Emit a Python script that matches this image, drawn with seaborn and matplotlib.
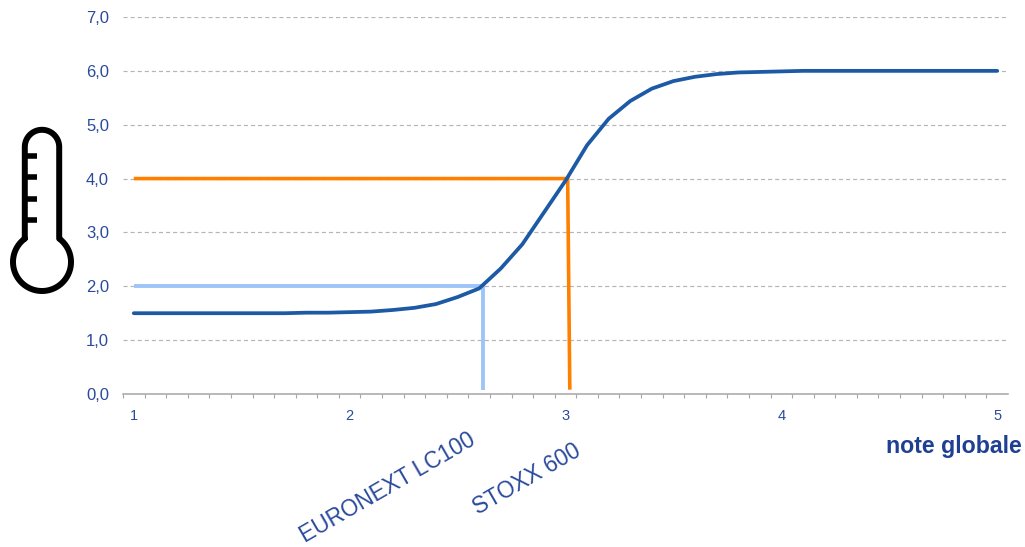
import numpy as np
import pandas as pd
import matplotlib
matplotlib.use("Agg")
import matplotlib.pyplot as plt
import seaborn as sns
from matplotlib.ticker import FixedLocator, FuncFormatter

# values
notes = [1.0, 1.1, 1.2, 1.3, 1.4, 1.5, 1.6, 1.7, 1.8, 1.9,
         2.0, 2.1, 2.2, 2.3, 2.4, 2.5, 2.6, 2.7, 2.8, 2.9,
         3.0, 3.1, 3.2, 3.3, 3.4, 3.5, 3.6, 3.7, 3.8, 3.9,
         4.0, 4.1, 4.2, 4.3, 4.4, 4.5, 4.6, 4.7, 4.8, 4.9, 5.0]
temperature = [1.50, 1.50, 1.50, 1.50, 1.50, 1.50, 1.50, 1.50, 1.51, 1.51,
               1.52, 1.53, 1.56, 1.60, 1.67, 1.80, 1.96, 2.33, 2.78, 3.37,
               3.96, 4.62, 5.11, 5.44, 5.67, 5.81, 5.89, 5.94, 5.97, 5.98,
               5.99, 6.00, 6.00, 6.00, 6.00, 6.00, 6.00, 6.00, 6.00, 6.00, 6.00]

stoxx_x = [1.0, 3.01, 3.02]
stoxx_y = [4.0, 4.0, 0.08]
euronext_x = [1.0, 2.62, 2.62]
euronext_y = [2.0, 2.0, 0.08]

y_ticks = [0, 1, 2, 3, 4, 5, 6, 7]
x_ticks = [1, 2, 3, 4, 5]
small_ticks = [0.95 + 0.1 * i for i in range(41)]

TEXT = "#2A4A9C"
W, H = 1025, 547

sns.set_style("white")
plt.rcParams["font.family"] = ["Liberation Sans", "DejaVu Sans"]

df = pd.DataFrame({"note": notes, "temperature": temperature})

fig = plt.figure(figsize=(W / 100, H / 100), dpi=100)
ax = fig.add_axes([123 / W, 1 - 394 / H, 885 / W, 377 / H])

# gridlines first so the curves sit on top
ax.set_axisbelow(True)
ax.yaxis.grid(True, linestyle=(0, (3.5, 2.5)), color="#B5B5B5", linewidth=0.85)
ax.xaxis.grid(False)

ax.plot(stoxx_x, stoxx_y, color="#FF8000", lw=2.6, solid_joinstyle="miter", solid_capstyle="butt")
ax.plot(euronext_x, euronext_y, color="#9EC5F8", lw=2.8, solid_joinstyle="miter", solid_capstyle="butt")
sns.lineplot(data=df, x="note", y="temperature", color="#1C5AA5", lw=2.7, ax=ax)

ax.set_xlim(0.95, 5.05)
ax.set_ylim(0, 7)
ax.set_xlabel("")
ax.set_ylabel("")

for side in ["left", "right", "top"]:
    ax.spines[side].set_visible(False)
ax.spines["bottom"].set_color("#A6A6A6")
ax.spines["bottom"].set_linewidth(1.1)

ax.set_yticks(y_ticks)
ax.yaxis.set_major_formatter(FuncFormatter(lambda v, _: f"{v:.1f}".replace(".", ",")))
ax.tick_params(axis="y", length=0, pad=10, labelsize=12, labelcolor=TEXT)

ax.set_xticks(x_ticks)
ax.xaxis.set_minor_locator(FixedLocator(small_ticks))
ax.tick_params(axis="x", which="major", length=0, pad=11, labelsize=10.5, labelcolor=TEXT)
ax.tick_params(axis="x", which="minor", bottom=True, length=3.2, width=0.8, color="#A6A6A6")

# overlay in pixel coordinates for the free labels and the icon
over = fig.add_axes([0, 0, 1, 1])
over.set_xlim(0, W)
over.set_ylim(H, 0)
over.axis("off")
over.patch.set_alpha(0)

over.text(954, 447, "note globale", color="#1F3F92", fontsize=16.7, fontweight="bold",
          ha="center", va="center")
over.text(388, 488, "EURONEXT LC100", color=TEXT, fontsize=16.3, rotation=30,
          ha="center", va="center", rotation_mode="anchor")
over.text(527, 479, "STOXX 600", color=TEXT, fontsize=16.3, rotation=30,
          ha="center", va="center", rotation_mode="anchor")

# thermometer icon
cx, bulb_y, bulb_r = 42, 262, 29
tube_r, tube_top = 17.2, 147
join = np.arcsin(tube_r / bulb_r)
a = np.linspace(np.pi / 2 + join, 2.5 * np.pi - join, 80)
b = np.linspace(0, np.pi, 40)
icon_x = np.concatenate([cx + bulb_r * np.cos(a), cx + tube_r * np.cos(b)])
icon_y = np.concatenate([bulb_y - bulb_r * np.sin(a), tube_top - tube_r * np.sin(b)])
icon_x = np.append(icon_x, icon_x[0])
icon_y = np.append(icon_y, icon_y[0])
over.plot(icon_x, icon_y, color="black", lw=4.3, solid_joinstyle="round")
for tick_y in [156, 177, 198.5, 220]:
    over.plot([cx - tube_r, 36.5], [tick_y, tick_y], color="black", lw=4.0, solid_capstyle="butt")

fig.savefig("out.png", dpi=100, facecolor="white")
